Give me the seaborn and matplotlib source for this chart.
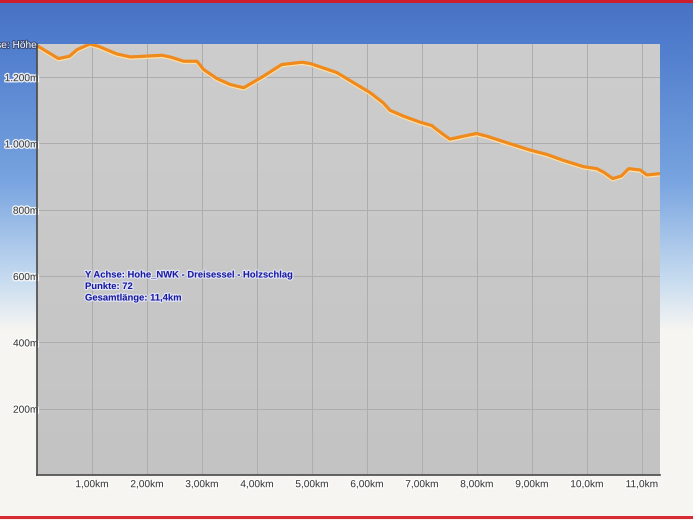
import numpy as np
import pandas as pd
import matplotlib
matplotlib.use("Agg")
import matplotlib.pyplot as plt
import matplotlib.patheffects as pe
import matplotlib.transforms as mtransforms
import seaborn as sns

# ---- data ----
dist_km = [0, 0.39, 0.59, 0.73, 0.96, 1.12, 1.45, 1.70, 1.94, 2.27, 2.42, 2.67, 2.91,
           3.03, 3.27, 3.51, 3.76, 4.12, 4.45, 4.82, 4.97, 5.45, 5.76, 6.06, 6.30,
           6.42, 6.67, 6.97, 7.18, 7.27, 7.39, 7.51, 7.76, 7.99, 8.18, 8.55, 8.97,
           9.27, 9.57, 9.94, 10.18, 10.30, 10.47, 10.63, 10.76, 10.97, 11.09, 11.33]
elev_m = [1295, 1256, 1263, 1283, 1300, 1293, 1270, 1261, 1263, 1266, 1261, 1248, 1248,
          1223, 1196, 1178, 1168, 1203, 1238, 1245, 1241, 1214, 1183, 1153, 1122,
          1100, 1082, 1064, 1054, 1042, 1027, 1013, 1022, 1030, 1022, 1002, 980,
          967, 949, 930, 924, 914, 894, 902, 924, 920, 905, 909]

x_ticks = [1, 2, 3, 4, 5, 6, 7, 8, 9, 10, 11]
x_tick_labels = ["1,00km", "2,00km", "3,00km", "4,00km", "5,00km", "6,00km",
                 "7,00km", "8,00km", "9,00km", "10,0km", "11,0km"]
y_ticks = [200, 400, 600, 800, 1000, 1200]
y_tick_labels = ["200m", "400m", "600m", "800m", "1.000m", "1.200m"]
info_lines = ["Y Achse: Hohe_NWK - Dreisessel - Holzschlag",
              "Punkte: 72",
              "Gesamtlänge: 11,4km"]
corner_label = "Y Achse: Höhe"

df = pd.DataFrame({"dist": dist_km, "elev": elev_m})

sns.set_style("white")
plt.rcParams["font.family"] = ["Liberation Sans", "DejaVu Sans"]

W, H = 693, 520
fig = plt.figure(figsize=(W / 100, H / 100), dpi=100)

# ---- sky-like background ----
bg = fig.add_axes([0, 0, 1, 1], zorder=-10)
rows = np.arange(H)
stops_y = [0, 40, 180, 280, 330, 520]
stops_c = np.array([[0x48, 0x72, 0xc4], [0x4f, 0x7c, 0xcc], [0x78, 0xa4, 0xe0],
                    [0xc8, 0xdc, 0xf0], [0xf7, 0xf5, 0xf2], [0xf8, 0xf6, 0xf3]]) / 255
img = np.zeros((H, W, 3))
for k in range(3):
    col = np.interp(rows, stops_y, stops_c[:, k])
    img[:, :, k] = col[:, None]
img[0:3, :, :] = np.array([0xcc, 0x1e, 0x2c]) / 255
img[516:519, :, :] = np.array([0xd8, 0x2a, 0x33]) / 255
bg.imshow(img, aspect="auto", extent=[0, W, H, 0])
bg.set_axis_off()

# ---- main axes ----
L, R, T, B = 37, 660, 44, 475
ax = fig.add_axes([L / W, 1 - B / H, (R - L) / W, (B - T) / H])
xmax, ymax = 11.33, 1300
grad = np.linspace(0xcd, 0xc3, 100)[:, None] / 255
ax.imshow(np.dstack([grad, grad, grad]), aspect="auto",
          extent=[0, xmax, 0, ymax], zorder=0, origin="upper")
ax.set_xlim(0, xmax)
ax.set_ylim(0, ymax)

ax.set_xticks(x_ticks)
ax.set_xticklabels(x_tick_labels)
ax.set_yticks(y_ticks)
ax.set_yticklabels(y_tick_labels)
ax.grid(True, color="#adadad", linewidth=0.7, zorder=1)
ax.set_axisbelow(False)
for s in ["top", "right"]:
    ax.spines[s].set_visible(False)
for s in ["left", "bottom"]:
    ax.spines[s].set_color("#4a4a4a")
    ax.spines[s].set_linewidth(1.2)
    ax.spines[s].set_zorder(5)

halo = [pe.withStroke(linewidth=2, foreground=(1, 1, 1, 0.85))]
ax.tick_params(axis="both", length=0, labelsize=7.3, labelcolor="#3a3a3a")
ax.tick_params(axis="y", pad=-1)
ax.tick_params(axis="x", pad=3)
for lab in ax.get_xticklabels() + ax.get_yticklabels():
    lab.set_path_effects(halo)

# ---- line ----
shift = mtransforms.offset_copy(ax.transData, fig=fig, x=0, y=-1.3, units="dots")
ax.plot(dist_km, elev_m, color="#ffe2a8", linewidth=2.2, transform=shift,
        zorder=3, solid_joinstyle="round")
sns.lineplot(data=df, x="dist", y="elev", ax=ax, color="#f08a1c",
             linewidth=2.3, zorder=4, sort=False, estimator=None)
ax.set_xlabel("")
ax.set_ylabel("")

# ---- texts ----
for i, line in enumerate(info_lines):
    fig.text(85 / W, 1 - (275 + i * 11.5) / H, line, fontsize=6.8,
             fontweight="bold", color="#1a1aa0", ha="left", va="center",
             path_effects=[pe.withStroke(linewidth=1.8, foreground=(0.9, 0.92, 1, 0.8))])

fig.text(L / W, 1 - 45 / H, corner_label, fontsize=7.3, color="#f4f4f4",
         ha="right", va="center",
         path_effects=[pe.withStroke(linewidth=1.5, foreground=(0.2, 0.25, 0.4, 0.8))])

fig.savefig("out.png", dpi=100)
